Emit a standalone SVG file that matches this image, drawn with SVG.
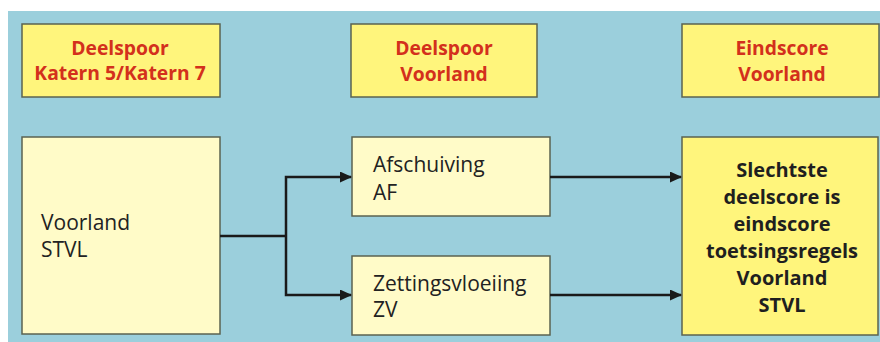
<svg xmlns="http://www.w3.org/2000/svg" width="880" height="342" viewBox="0 0 880 342">
<defs>
<marker id="arr" markerWidth="12" markerHeight="11" refX="11" refY="5.5" orient="auto" markerUnits="userSpaceOnUse">
<path d="M0,0 L12,5.5 L0,11 Z" fill="#1a1a1a"/>
</marker>
</defs>
<style>
.hdr{fill:#fff57c;stroke:#5b6350;stroke-width:1.5}
.body{fill:#fffbc8;stroke:#5b6350;stroke-width:1.5}
.fin{fill:#fff57c;stroke:#5b6350;stroke-width:1.5}
.ht{font-family:"Open Sans",sans-serif;font-weight:bold;font-size:19.3px;fill:#d3301c;text-anchor:middle}
.bt{font-family:"Open Sans",sans-serif;font-size:21px;fill:#222}
.ft{font-family:"Open Sans",sans-serif;font-weight:bold;font-size:20px;fill:#1f1f1f;text-anchor:middle}
.con{fill:none;stroke:#1a1a1a;stroke-width:2.5}
</style>
<rect x="0" y="0" width="880" height="342" fill="#ffffff"/>
<rect x="8" y="11" width="872" height="331" fill="#9bcfdc"/>
<g id="hdr1"><rect class="hdr" x="22" y="24" width="198" height="73"/><text class="ht" x="120" y="55">Deelspoor</text><text class="ht" x="120" y="80">Katern 5/Katern 7</text></g>
<g id="hdr2"><rect class="hdr" x="351" y="24" width="186" height="73"/><text class="ht" x="444" y="55">Deelspoor</text><text class="ht" x="444" y="81">Voorland</text></g>
<g id="hdr3"><rect class="hdr" x="682" y="24" width="197" height="73"/><text class="ht" x="782" y="55">Eindscore</text><text class="ht" x="782" y="81">Voorland</text></g>
<g id="stvl"><rect class="body" x="22" y="137" width="198" height="197"/><text class="bt" x="41" y="230">Voorland</text><text class="bt" x="41" y="257">STVL</text></g>
<g id="af"><rect class="body" x="352" y="137" width="198" height="79"/><text class="bt" x="373" y="172">Afschuiving</text><text class="bt" x="373" y="200">AF</text></g>
<g id="zv"><rect class="body" x="352" y="256" width="198" height="79"/><text class="bt" x="373" y="291">Zettingsvloeiing</text><text class="bt" x="373" y="317">ZV</text></g>
<g id="eind"><rect class="fin" x="682" y="137" width="196" height="198"/>
<text class="ft" x="782" y="177">Slechtste</text>
<text class="ft" x="782" y="204">deelscore is</text>
<text class="ft" x="782" y="231">eindscore</text>
<text class="ft" x="782" y="258">toetsingsregels</text>
<text class="ft" x="782" y="285">Voorland</text>
<text class="ft" x="782" y="312">STVL</text>
</g>
<g id="connectors">
<path class="con" d="M220,236 H286"/>
<path class="con" d="M286,236 V177 H351" marker-end="url(#arr)"/>
<path class="con" d="M286,236 V295 H351" marker-end="url(#arr)"/>
<path class="con" d="M550,177 H681" marker-end="url(#arr)"/>
<path class="con" d="M550,295 H681" marker-end="url(#arr)"/>
</g>
</svg>
